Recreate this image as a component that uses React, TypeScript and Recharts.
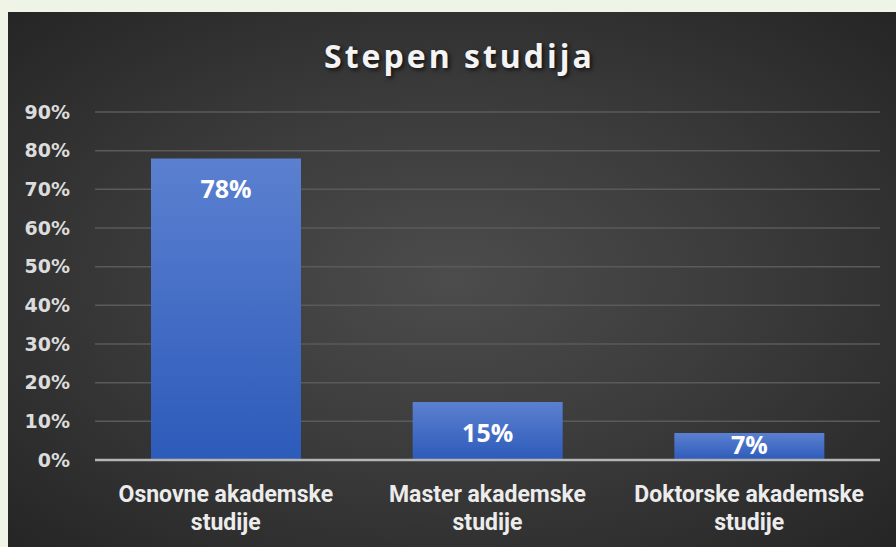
import { BarChart, Bar, XAxis, YAxis, CartesianGrid, LabelList } from 'recharts';

// Data
const categories = [
  ['Osnovne akademske', 'studije'],
  ['Master akademske', 'studije'],
  ['Doktorske akademske', 'studije'],
];
const shares = [78, 15, 7];
const yTicks = [0, 10, 20, 30, 40, 50, 60, 70, 80, 90];
const chartTitle = 'Stepen studija';

const chartData = categories.map((lines, i) => ({
  name: lines.join(' '),
  lines,
  value: shares[i],
}));

// Two-line category label under each bar
const CategoryTick = (props: any) => {
  const { x, y, index } = props;
  const lines: string[] = chartData[index]?.lines ?? [];
  return (
    <text
      x={x}
      y={y}
      textAnchor="middle"
      fill="#ececec"
      fontFamily="Roboto, 'Noto Sans', sans-serif"
      fontWeight={700}
      fontSize={23}
    >
      {lines.map((line, i) => (
        <tspan key={i} x={x} y={y + 42 + i * 28}>
          {line}
        </tspan>
      ))}
    </text>
  );
};

// Value label placed near the top, inside the bar
const ValueLabel = (props: any) => {
  const { x, y, width, height, value } = props;
  const cy = Math.min(y + 31, y + height - 15);
  return (
    <text
      x={x + width / 2}
      y={cy}
      dy="0.36em"
      textAnchor="middle"
      fill="#ffffff"
      fontFamily="'Open Sans', sans-serif"
      fontWeight={700}
      fontSize={25}
    >
      {`${value}%`}
    </text>
  );
};

export default function App() {
  return (
    <div
      style={{
        position: 'fixed',
        left: 0,
        top: 0,
        width: 896,
        height: 547,
        background: '#eef5e7',
        overflow: 'hidden',
      }}
    >
      <div
        style={{
          position: 'absolute',
          left: 8,
          top: 12,
          width: 888,
          height: 535,
          background:
            'radial-gradient(ellipse farthest-corner at 50% 50%, #4c4c4c 0%, #3c3c3c 45%, #252525 100%)',
        }}
      >
        <div
          style={{
            position: 'absolute',
            left: 0,
            top: 28,
            width: 888,
            paddingLeft: 15,
            boxSizing: 'border-box',
            textAlign: 'center',
            fontFamily: "'Open Sans', sans-serif",
            fontWeight: 700,
            fontSize: 32,
            lineHeight: '32px',
            letterSpacing: 3,
            color: '#f4f4f4',
            textShadow: '2px 2px 4px rgba(0,0,0,0.7)',
          }}
        >
          {chartTitle}
        </div>
        <BarChart
          width={888}
          height={535}
          data={chartData}
          margin={{ top: 100, right: 16, left: 0, bottom: 0 }}
        >
          <defs>
            <linearGradient id="barFill" x1="0" y1="0" x2="0" y2="1">
              <stop offset="0%" stopColor="#5b80d0" />
              <stop offset="100%" stopColor="#2d5bba" />
            </linearGradient>
          </defs>
          <CartesianGrid vertical={false} stroke="#5a5a5a" strokeWidth={1.5} />
          <XAxis
            dataKey="name"
            height={87}
            tickSize={0}
            tickMargin={0}
            tickLine={false}
            axisLine={{ stroke: '#b5b5b5', strokeWidth: 2.5 }}
            tick={<CategoryTick />}
            interval={0}
          />
          <YAxis
            width={87}
            domain={[0, 90]}
            ticks={yTicks}
            tickFormatter={(v) => `${v}%`}
            tickSize={0}
            tickMargin={25}
            tickLine={false}
            axisLine={false}
            tick={{
              fill: '#dcdcdc',
              fontFamily: "'DejaVu Sans', sans-serif",
              fontWeight: 700,
              fontSize: 19,
            }}
          />
          <Bar dataKey="value" barSize={150} fill="url(#barFill)" isAnimationActive={false}>
            <LabelList dataKey="value" content={<ValueLabel />} />
          </Bar>
        </BarChart>
      </div>
    </div>
  );
}
